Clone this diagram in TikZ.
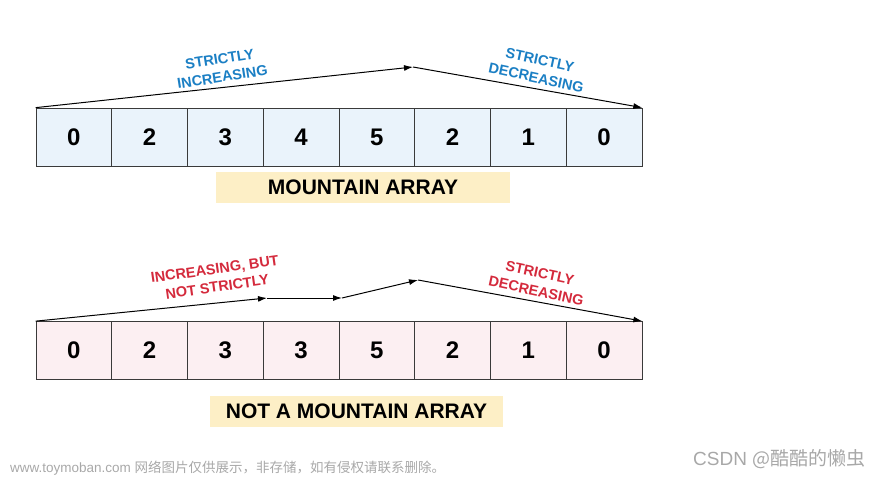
\documentclass[tikz,border=0pt]{standalone}
\usepackage{fontspec}
\setmainfont{Liberation Sans}
\newfontfamily\cjk{Noto Sans CJK SC}
\usetikzlibrary{arrows.meta}

\definecolor{cellblue}{HTML}{EAF3FB}
\definecolor{cellpink}{HTML}{FCEFF2}
\definecolor{cellline}{HTML}{3A3A3A}
\definecolor{tagfill}{HTML}{FDEFC6}
\definecolor{noteblue}{HTML}{1B7FC4}
\definecolor{notered}{HTML}{D42A3C}
\definecolor{wmgray}{HTML}{A8A8A8}

\tikzstyle{cell}  = [draw=cellline, line width=0.7pt, minimum width=75.75pt, minimum height=58pt,
                     inner sep=0pt, font=\fontsize{24}{24}\selectfont\bfseries]
\tikzstyle{cblue} = [cell, fill=cellblue]
\tikzstyle{cpink} = [cell, fill=cellpink]
\tikzstyle{tag}   = [fill=tagfill, minimum height=31pt, inner sep=0pt,
                     font=\fontsize{21}{21}\selectfont\bfseries]
\tikzstyle{note}  = [align=center, inner sep=1pt, font=\fontsize{14.5}{18}\selectfont\bfseries]
\tikzstyle{trend} = [-{Latex[length=9pt,width=6pt]}, line width=1pt]
\def\cells#1#2#3#4{
  \foreach \v [count=\i] in {#4}
    \node[#2] (#1\i) at ({36+75.75*(\i-0.5)},#3) {\v};
}

\begin{document}
\begin{tikzpicture}[x=1pt, y=-1pt]
    \useasboundingbox (0,0) rectangle (880,478);
    % mountain array
    \cells{a}{cblue}{137}{0,2,3,4,5,2,1,0}
    \coordinate (apeak) at (413,67);
    \draw[trend] (a1.north west) -- (apeak);
    \draw[trend] (apeak) -- (a8.north east);
    \node[note, text=noteblue, rotate=9]  (aup)   at (221,68) {STRICTLY\\INCREASING};
    \node[note, text=noteblue, rotate=-12] (adown) at (538,69) {STRICTLY\\DECREASING};
    \node[tag, minimum width=294pt] (atag) at (363,187.5) {MOUNTAIN ARRAY};
    % not a mountain array
    \cells{b}{cpink}{350.5}{0,2,3,3,5,2,1,0}
    \coordinate (bflat) at (267,298);
    \coordinate (bstep) at (342,298);
    \coordinate (bpeak) at (418,280);
    \draw[trend] (b1.north west) -- (bflat);
    \draw[trend] (bflat) -- (bstep);
    \draw[trend] (bstep) -- (bpeak);
    \draw[trend] (bpeak) -- (b8.north east);
    \node[note, text=notered, rotate=8]   (bup)   at (216,278) {INCREASING, BUT\\NOT STRICTLY};
    \node[note, text=notered, rotate=-12] (bdown) at (538,282) {STRICTLY\\DECREASING};
    \node[tag, minimum width=293pt] (btag) at (356.5,411.5) {NOT A MOUNTAIN ARRAY};
    % watermarks
    \node[anchor=west, text=wmgray, inner sep=0pt, font=\fontsize{13.5}{13.5}\selectfont] (wm)
      at (10,468) {www.toymoban.com {\cjk 网络图片仅供展示，非存储，如有侵权请联系删除。}};
    \node[anchor=west, text=wmgray, inner sep=0pt, font=\fontsize{19}{19}\selectfont] (csdn)
      at (693,459) {CSDN {\cjk @酷酷的懒虫}};
\end{tikzpicture}
\end{document}
